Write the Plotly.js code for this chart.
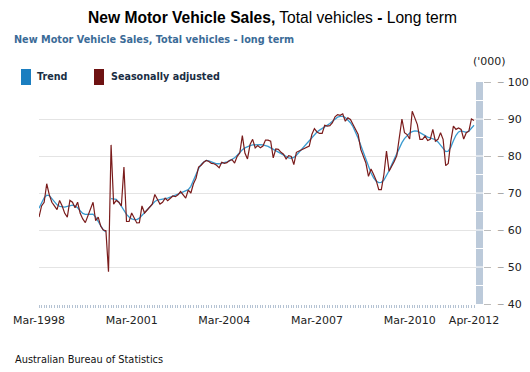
<!DOCTYPE html>
<html>
<head>
<meta charset="utf-8">
<script src="https://cdn.plot.ly/plotly-3.0.1.min.js"></script>
<style>html,body{margin:0;padding:0;background:#fff;}#chart{width:530px;height:372px;}</style>
</head>
<body>
<div id="chart"></div>
<script>
// Months Mar-1998 .. Apr-2012
const monthNames = ['Jan','Feb','Mar','Apr','May','Jun','Jul','Aug','Sep','Oct','Nov','Dec'];
const startYear = 1998, startMonthIdx = 2, monthCount = 170;
const months = [];
for (let i = 0; i < monthCount; i++) {
  const mi = startMonthIdx + i;
  months.push(monthNames[mi % 12] + '-' + (startYear + Math.floor(mi / 12)));
}
const tickLabels = ['Mar-1998','Mar-2001','Mar-2004','Mar-2007','Mar-2010','Apr-2012'];

// Seasonally adjusted ('000)
const seasonallyAdjusted = [
  63.5,66.5,67.5,72.5,69.5,67.5,66.5,65.5,68.0,66.5,
  64.5,63.5,68.0,67.5,66.0,67.5,64.5,63.0,62.0,64.0,
  65.5,67.5,62.5,63.5,61.0,60.0,59.8,48.7,83.0,67.0,
  68.0,67.5,66.5,77.0,62.3,62.3,64.6,63.0,61.9,62.0,
  66.5,64.6,65.4,66.0,67.0,69.6,68.4,67.0,67.5,68.6,
  67.9,68.5,69.2,69.0,69.5,70.4,69.5,68.6,70.8,70.0,
  72.5,74.0,77.0,77.5,78.3,78.8,78.5,78.0,77.9,77.5,
  76.8,78.3,78.0,78.2,78.8,79.0,78.1,79.9,80.8,85.5,
  80.8,79.2,83.1,84.5,82.2,82.8,82.2,82.7,84.3,84.3,
  84.0,79.5,81.9,81.8,81.0,80.5,79.2,80.1,79.9,77.7,
  81.0,81.3,81.8,82.0,82.2,82.7,85.8,87.4,86.5,86.1,
  86.1,88.3,88.1,88.2,89.0,90.6,91.2,91.0,91.4,89.4,
  90.3,89.9,88.5,87.2,85.8,81.8,80.0,78.1,74.5,76.5,
  75.0,73.4,70.9,70.9,75.0,81.3,75.9,77.1,78.5,80.1,
  84.9,90.0,86.3,85.8,84.6,92.1,90.3,88.5,84.5,84.5,
  85.4,84.2,84.5,87.2,84.0,84.5,86.3,84.5,77.4,78.0,
  84.0,88.1,87.2,87.6,87.2,84.6,86.3,86.7,90.0,89.6
];

// Trend ('000), break around the GST introduction
const trend = [
  65.9,67.3,68.7,69.4,69.3,68.5,67.5,66.8,66.4,66.2,
  66.2,66.4,66.6,66.7,66.5,66.0,65.2,64.5,64.2,64.2,
  64.4,64.3,63.5,62.2,60.9,60.0,59.5,null,68.5,68.5,
  68.3,67.5,66.3,65.0,64.2,63.5,63.0,62.8,62.8,63.2,
  64.0,64.8,65.6,66.4,67.1,67.7,68.1,68.3,68.4,68.5,
  68.6,68.8,69.1,69.4,69.7,70.0,70.2,70.4,70.9,71.8,
  73.2,75.0,76.6,77.7,78.4,78.8,78.7,78.4,78.1,77.9,
  77.9,78.0,78.2,78.4,78.7,79.0,79.5,80.2,81.0,81.7,
  82.2,82.6,82.8,83.0,83.1,83.1,83.1,83.0,82.9,82.6,
  82.2,81.8,81.4,81.0,80.6,80.2,79.8,79.5,79.4,79.6,
  80.2,81.0,81.8,82.5,83.3,84.2,85.1,85.9,86.5,87.0,
  87.4,87.8,88.3,88.8,89.4,90.0,90.5,90.7,90.7,90.4,
  89.8,89.0,87.9,86.5,84.8,82.9,80.9,78.9,77.0,75.4,
  74.1,73.2,72.8,72.9,73.5,74.6,76.0,77.6,79.2,80.8,
  82.3,83.6,84.7,85.6,86.2,86.6,86.8,86.7,86.3,85.8,
  85.4,85.1,84.9,84.7,84.4,83.8,82.9,81.9,81.2,81.3,
  82.4,84.1,85.6,86.5,86.8,86.6,86.4,86.7,87.4,88.3
];
const yTicks = [40,50,60,70,80,90,100];
const yMin = 40, yMax = 100;

const trendColor = '#3a9bd0';
const saColor = '#7a1c1c';

// pixel helpers for decorations (plot area 39..483 x 82..304)
const L = 39, R = 483, T = 82, B = 304;
const px = x => (x - L) / (R - L);
const py = y => (B - y) / (B - T);
const pv = v => (v - yMin) / (yMax - yMin);

const traces = [
  {x: months, y: trend, type: 'scatter', mode: 'lines', name: 'Trend',
   line: {color: trendColor, width: 1.3}, connectgaps: false, hoverinfo: 'skip'},
  {x: months, y: seasonallyAdjusted, type: 'scatter', mode: 'lines', name: 'Seasonally adjusted',
   line: {color: saColor, width: 1.2}, hoverinfo: 'skip'}
];

const shapes = [
  {type: 'rect', xref: 'paper', yref: 'paper', x0: px(476), x1: 1, y0: 0, y1: 1,
   fillcolor: '#bccada', line: {width: 0}, layer: 'above'},
  {type: 'rect', xref: 'paper', yref: 'paper', x0: px(21), x1: px(31), y0: py(85), y1: py(69),
   fillcolor: '#1b7ec0', line: {width: 0}},
  {type: 'rect', xref: 'paper', yref: 'paper', x0: px(94), x1: px(104), y0: py(85), y1: py(69),
   fillcolor: '#6e1212', line: {width: 0}}
];
for (let v = 45; v < 100; v += 5) {
  shapes.push({type: 'line', xref: 'paper', yref: 'paper', x0: px(476), x1: 1, y0: pv(v), y1: pv(v),
    line: {color: '#ffffff', width: 1}, layer: 'above'});
}

const annotations = [
  {text: '<b>New Motor Vehicle Sales, Total vehicles - long term</b>', xref: 'paper', yref: 'paper',
   x: px(12), y: py(39.5), xanchor: 'left', yanchor: 'middle', showarrow: false,
   font: {family: 'DejaVu Sans', size: 9.7, color: '#3b6b97'}},
  {text: '<b>Trend</b>', xref: 'paper', yref: 'paper', x: px(35), y: py(76.5),
   xanchor: 'left', yanchor: 'middle', showarrow: false,
   font: {family: 'DejaVu Sans', size: 9.6, color: '#1a2e44'}},
  {text: '<b>Seasonally adjusted</b>', xref: 'paper', yref: 'paper', x: px(109), y: py(76.5),
   xanchor: 'left', yanchor: 'middle', showarrow: false,
   font: {family: 'DejaVu Sans', size: 9.6, color: '#1a2e44'}},
  {text: "('000)", xref: 'paper', yref: 'paper', x: px(489), y: py(61),
   xanchor: 'center', yanchor: 'middle', showarrow: false,
   font: {family: 'DejaVu Sans', size: 11, color: '#222'}},
  {text: 'Australian Bureau of Statistics', xref: 'paper', yref: 'paper', x: px(13), y: py(359),
   xanchor: 'left', yanchor: 'middle', showarrow: false,
   font: {family: 'DejaVu Sans', size: 9.8, color: '#111'}}
];

const layout = {
  width: 530, height: 372,
  margin: {l: L, r: 530 - R, t: T, b: 372 - B, pad: 0},
  paper_bgcolor: '#ffffff', plot_bgcolor: '#ffffff',
  showlegend: false,
  title: {text: '<b>New Motor Vehicle Sales,</b> Total vehicles <b>-</b> Long term',
    xref: 'container', yref: 'container', x: 272.5 / 530, y: 1 - 18 / 372,
    xanchor: 'center', yanchor: 'middle',
    font: {family: 'Liberation Sans', size: 15.6, color: '#000'}},
  xaxis: {type: 'category', range: [0, 169 * (R - L) / 435],
    tickmode: 'array', tickvals: months,
    ticktext: months.map(m => tickLabels.includes(m) ? m : ''),
    ticks: 'outside', ticklen: 3, tickwidth: 1, tickcolor: '#b5c3d3',
    ticklabelstandoff: 3,
    showgrid: false, showline: false, zeroline: false,
    tickfont: {family: 'DejaVu Sans', size: 11, color: '#222'}, fixedrange: true},
  yaxis: {side: 'right', range: [yMin, yMax], tickmode: 'array', tickvals: yTicks,
    ticktext: yTicks.map(v => "<span style='color:#a8a8a8;font-size:14px'>–</span>&nbsp;" + v),
    ticks: 'outside', ticklen: 7, tickwidth: 1, tickcolor: '#bdbdbd',
    ticklabelstandoff: 4,
    showgrid: true, gridcolor: '#e4e4e4', gridwidth: 1, zeroline: false, showline: false,
    tickfont: {family: 'DejaVu Sans', size: 11, color: '#222'}, fixedrange: true},
  shapes: shapes,
  annotations: annotations
};

Plotly.newPlot('chart', traces, layout, {staticPlot: true, displayModeBar: false});
</script>
</body>
</html>
